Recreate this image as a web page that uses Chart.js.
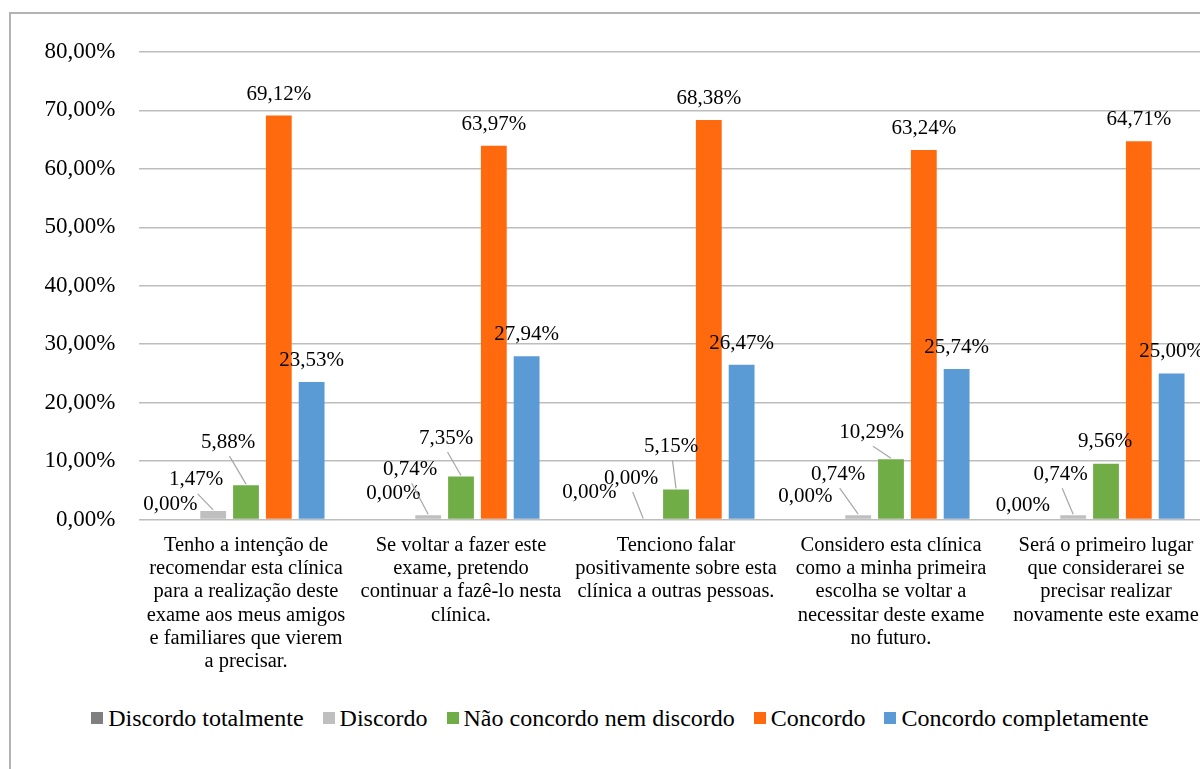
<!DOCTYPE html>
<html>
<head>
<meta charset="utf-8">
<script src="https://cdn.jsdelivr.net/npm/chart.js@4.4.0/dist/chart.umd.min.js"></script>
<style>
	body { margin: 0; background: #fff; overflow: hidden; }
	#frame { position: absolute; left: 9px; top: 12px; width: 1222px; height: 800px; border: 2px solid #b3b3b3; box-sizing: border-box; }
	#chartBox { position: absolute; left: 0; top: 0; }
	#legend { position: absolute; left: 0; top: 689px; width: 100%; height: 30px; display: flex; justify-content: center; align-items: center; color: #000; }
	#legend .item { display: flex; align-items: center; margin: 0 9.5px; white-space: nowrap; }
	#legend .box { display: inline-block; width: 12px; height: 12px; margin-right: 5px; }
</style>
</head>
<body>
<div id="frame">
	<div id="chartBox"><canvas id="mychart" width="1218" height="680"></canvas></div>
	<div id="legend"></div>
</div>
<script>
// questions (x axis, one entry per line of the label)
var categories = [
	["Tenho a intenção de", "recomendar esta clínica", "para a realização deste", "exame aos meus amigos", "e familiares que vierem", "a precisar."],
	["Se voltar a fazer este", "exame, pretendo", "continuar a fazê-lo nesta", "clínica."],
	["Tenciono falar", "positivamente sobre esta", "clínica a outras pessoas."],
	["Considero esta clínica", "como a minha primeira", "escolha se voltar a", "necessitar deste exame", "no futuro."],
	["Será o primeiro lugar", "que considerarei se", "precisar realizar", "novamente este exame"]
];

var seriesNames = ["Discordo totalmente", "Discordo", "Não concordo nem discordo", "Concordo", "Concordo completamente"];

// answers in %
var discordoTotalmente = [0.00, 0.00, 0.00, 0.00, 0.00];
var discordo = [1.47, 0.74, 0.00, 0.74, 0.74];
var naoConcordoNemDiscordo = [5.88, 7.35, 5.15, 10.29, 9.56];
var concordo = [69.12, 63.97, 68.38, 63.24, 64.71];
var concordoCompletamente = [23.53, 27.94, 26.47, 25.74, 25.00];

var yTicks = [0, 10, 20, 30, 40, 50, 60, 70, 80];

var colors = ["#7f7f7f", "#bfbfbf", "#70ad47", "#ff6a0e", "#5b9bd5"];

// label nudges for the small bars: [dx, dy, leader line]
var labelNudge = {
	0: [[-10, -15.5, false], [-2, -26, false], [-21, -27, false], [-20, -23, false], [-17.5, -14.5, false]],
	1: [[-17, -31, true], [-18, -46, true], [-12, -41.5, true], [-20, -41, true], [-12.5, -41, true]],
	2: [[-18, -43, true], [-15, -38.5, true], [-5, -43, true], [-19.5, -27, true], [-1, -22, false]]
};

var serif = '"Liberation Serif", "Times New Roman", serif';

function pct(v) {
	return v.toFixed(2).replace(".", ",") + "%";
}

var allSeries = [discordoTotalmente, discordo, naoConcordoNemDiscordo, concordo, concordoCompletamente];
var datasets = [];
for (var i = 0; i < allSeries.length; i++) {
	datasets.push({
		label: seriesNames[i],
		data: allSeries[i],
		backgroundColor: colors[i],
		categoryPercentage: 0.763,
		barPercentage: 0.787
	});
}

// value labels above the bars, with a thin line for the crowded ones
var barLabels = {
	id: "barLabels",
	afterDatasetsDraw: function(chart) {
		var ctx = chart.ctx;
		ctx.save();
		ctx.font = "21px " + serif;
		ctx.fillStyle = "#000";
		ctx.textAlign = "center";
		ctx.textBaseline = "middle";
		chart.data.datasets.forEach(function(ds, di) {
			var meta = chart.getDatasetMeta(di);
			meta.data.forEach(function(bar, j) {
				var n = labelNudge[di] ? labelNudge[di][j] : [0, -21.5, false];
				var lx = bar.x + n[0];
				var ly = bar.y + n[1];
				if (n[2]) {
					ctx.strokeStyle = "#a6a6a6";
					ctx.lineWidth = 1.2;
					ctx.beginPath();
					ctx.moveTo(lx + 1.5, ly + 14);
					ctx.lineTo(bar.x, bar.y - 1);
					ctx.stroke();
				}
				ctx.fillText(pct(ds.data[j]), lx, ly);
			});
		});
		ctx.restore();
	}
};

var ctx = document.getElementById("mychart");
var myChart = new Chart(ctx, {
	type: "bar",
	data: {
		labels: categories,
		datasets: datasets
	},
	options: {
		responsive: false,
		animation: false,
		layout: { padding: { left: 23.5, right: 15.5, top: 38, bottom: 14.5 } },
		plugins: {
			legend: { display: false },
			tooltip: { enabled: false }
		},
		scales: {
			x: {
				grid: { display: false, drawTicks: false },
				border: { display: false },
				ticks: {
					color: "#000",
					font: { family: serif, size: 20.5, lineHeight: 1.14 },
					padding: 14,
					maxRotation: 0,
					autoSkip: false
				},
				afterFit: function(axis) { axis.height = 160; }
			},
			y: {
				min: 0,
				max: 80,
				afterBuildTicks: function(axis) {
					axis.ticks = yTicks.map(function(v) { return { value: v }; });
				},
				grid: { color: "#bdbdbd", lineWidth: 1.5, drawTicks: false },
				border: { display: false },
				ticks: {
					color: "#000",
					font: { family: serif, size: 23 },
					padding: 23,
					callback: function(v) { return pct(v); }
				},
				afterFit: function(axis) { axis.width = 104; }
			}
		}
	},
	plugins: [barLabels]
});

// legend under the chart
var legendDiv = document.getElementById("legend");
legendDiv.style.fontFamily = serif;
legendDiv.style.fontSize = "24px";
myChart.data.datasets.forEach(function(ds) {
	var item = document.createElement("span");
	item.className = "item";
	var box = document.createElement("span");
	box.className = "box";
	box.style.background = ds.backgroundColor;
	item.appendChild(box);
	item.appendChild(document.createTextNode(ds.label));
	legendDiv.appendChild(item);
});
</script>
</body>
</html>
